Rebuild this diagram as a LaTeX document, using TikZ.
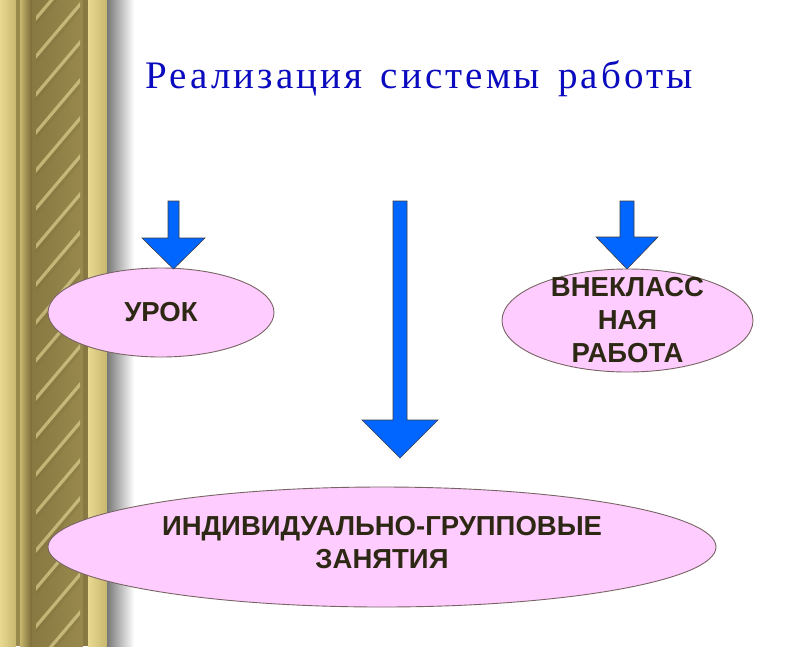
\documentclass[tikz,border=0pt]{standalone}
\usepackage{fontspec}
\setmainfont{Liberation Serif}
\setsansfont{Liberation Sans}
\newfontfamily\titlefont{Liberation Serif}[LetterSpace=8,WordSpace=1.4]
\usetikzlibrary{shapes.geometric}
\definecolor{pinkfill}{RGB}{255,204,255}
\definecolor{ellborder}{RGB}{120,100,100}
\definecolor{arrowblue}{RGB}{0,102,255}
\definecolor{arrowedge}{RGB}{60,60,70}
\definecolor{titleblue}{RGB}{10,10,190}
\definecolor{txtdark}{RGB}{45,40,20}
\definecolor{goldlight}{RGB}{232,216,145}
\definecolor{goldmid}{RGB}{200,184,110}
\definecolor{golddark}{RGB}{120,105,55}
\definecolor{goldhi}{RGB}{240,228,160}
\definecolor{shadegray}{RGB}{120,120,120}
\newcommand\blkarrow[7]{%
  \filldraw[arrowst] ({#2-#6},#3) -- ({#2+#6},#3) -- ({#2+#6},#4) -- ({#2+#7},#4)
    -- ({#2},#5) coordinate (#1) -- ({#2-#7},#4) -- ({#2-#6},#4) -- cycle;}
\tikzset{
  ell/.style={ellipse, draw=ellborder, line width=0.9pt, fill=pinkfill, inner sep=0pt},
  boxtext/.style={font=\sffamily\bfseries\fontsize{27.5}{33}\selectfont, text=txtdark, align=center, inner sep=0pt},
  arrowst/.style={fill=arrowblue, draw=arrowedge, line width=0.6pt, line join=miter}
}
\begin{document}
\begin{tikzpicture}[x=1pt,y=-1pt]
\useasboundingbox (0,0) rectangle (800,646);
\fill[white] (0,0) rectangle (800,646);
% decorative column
\shade[left color=goldlight, right color=goldmid] (0,0) rectangle (16,646);
\fill[golddark!60!goldmid] (16,0) rectangle (20,646);
\shade[left color=goldmid, right color=golddark] (20,0) rectangle (32,646);
\shade[left color=golddark!80!goldmid, middle color=goldlight, right color=golddark!60!goldmid] (32,0) rectangle (83,646);
\begin{scope}
  \clip (32,0) rectangle (83,646);
  \foreach \yy in {-60,-22,...,720} {
    \fill[goldhi, opacity=0.55] (36,\yy) -- (80,{\yy-52}) -- (80,{\yy-47}) -- (36,{\yy+5}) -- cycle;
    \fill[golddark, opacity=0.18] (36,{\yy+5}) -- (80,{\yy-47}) -- (80,{\yy-42}) -- (36,{\yy+10}) -- cycle;
  }
\end{scope}
\fill[golddark!80!goldmid] (83,0) rectangle (88,646);
\shade[left color=goldlight, right color=goldmid] (88,0) rectangle (107,646);
\shade[left color=shadegray, right color=white] (107,0) rectangle (134,646);
% title
\node[anchor=base west, font=\titlefont\fontsize{39}{44}\selectfont, text=titleblue, inner sep=0pt] (title) at (145,88) {Реализация системы работы};
% ellipses
\node[ell, minimum width=226pt, minimum height=89pt] (urok) at (161,312.5) {};
\node[boxtext] (urokt) at (urok.center) {УРОК};
\node[ell, minimum width=251pt, minimum height=103pt] (vneklass) at (627.5,320.5) {};
\node[boxtext] (vneklasst) at (vneklass.center) {ВНЕКЛАСС\\НАЯ\\РАБОТА};
\node[ell, minimum width=668pt, minimum height=120pt] (indiv) at (382,547) {};
\node[boxtext] (indivt) at (382,543) {ИНДИВИДУАЛЬНО-ГРУППОВЫЕ\\ЗАНЯТИЯ};
% block arrows
\blkarrow{tipl}{173.5}{201}{238}{269}{5.5}{31.5}
\blkarrow{tipc}{400}{201}{420}{458}{7}{38}
\blkarrow{tipr}{627}{201}{237}{269}{7}{31}
\end{tikzpicture}
\end{document}
